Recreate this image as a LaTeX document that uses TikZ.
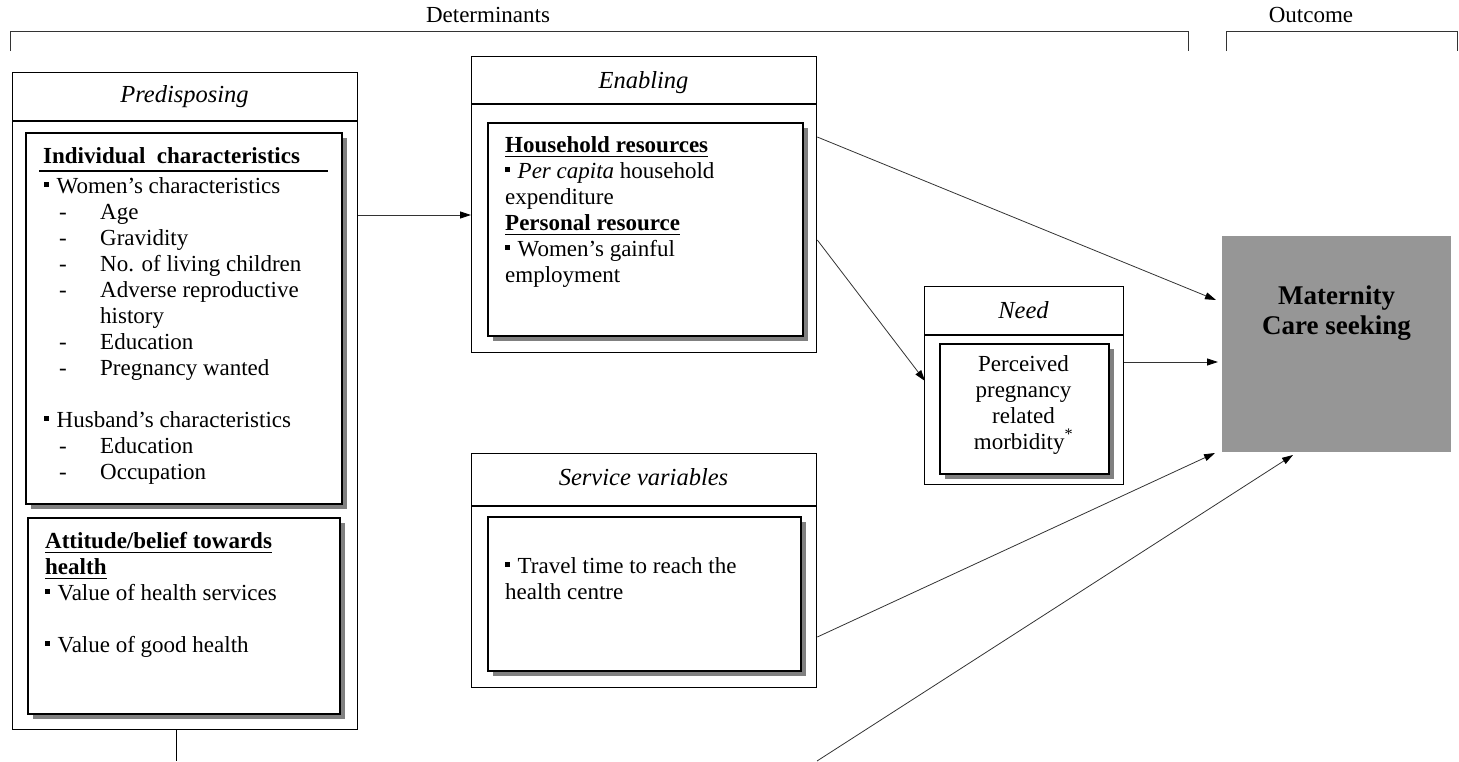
\documentclass[tikz,border=0pt]{standalone}
\usepackage{fontspec}
\setmainfont{Liberation Serif}
\usetikzlibrary{arrows.meta,shadows}
\newcommand{\ulb}[1]{\setbox0\hbox{#1}\rlap{\rule[-5.3pt]{\wd0}{1.8pt}}\box0}
\newcommand{\bul}{\raisebox{6.5pt}{\rule{5pt}{5pt}}\hspace{7.5pt}}
\definecolor{linegray}{HTML}{333333}
\definecolor{matgray}{HTML}{969696}
\begin{document}
\begin{tikzpicture}[x=1pt,y=-1pt,
  outer/.style={draw=black,line width=1.3pt,fill=white,rectangle,inner sep=0pt,anchor=north west},
  inner/.style={draw=black,line width=2pt,fill=white,rectangle,inner sep=0pt,anchor=north west,
     drop shadow={shadow xshift=5pt,shadow yshift=-5pt,fill=black!50,opacity=1}},
  txt/.style={inner sep=0pt,anchor=base west,font=\fontsize{23}{26}\selectfont},
  ctxt/.style={inner sep=0pt,anchor=base,font=\fontsize{23}{26}\selectfont},
  head/.style={inner sep=0pt,anchor=base,font=\fontsize{24.5}{28}\selectfont\itshape},
  arr/.style={draw=linegray,line width=0.8pt,-{Triangle[length=11pt,width=7pt,color=black]}},
  brk/.style={draw=linegray,line width=1pt}]
\useasboundingbox (0,0) rectangle (1459,761);

% brackets
\node[ctxt] (det) at (488,22) {Determinants};
\node[ctxt] (outc) at (1311,22) {Outcome};
\draw[brk] (10,51) -- (10,31) -- (1188,31) -- (1188,51);
\draw[brk] (1226,51) -- (1226,31) -- (1457,31) -- (1457,51);

% Predisposing
\node[outer,minimum width=345pt,minimum height=657pt] (pre) at (12,72) {};
\draw[line width=1.3pt] (pre.west |- 0,121) -- (pre.east |- 0,121);
\node[head] (preh) at (184.5,102) {Predisposing};
\node[inner,minimum width=316pt,minimum height=371pt] (ind) at (25,132) {};
\node[inner,minimum width=312pt,minimum height=196pt] (att) at (27,517) {};
\draw[line width=1.8pt] (39,171) -- (328,171);
\node[txt] (i0) at (43,163) {\bfseries Individual\ \ characteristics};
\node[txt] (i1) at (44,193) {\bul Women's characteristics};
\node[txt] (d1) at (59,219) {-};\node[txt] (i2) at (100,219) {Age};
\node[txt] (d2) at (59,245) {-};\node[txt] (i3) at (100,245) {Gravidity};
\node[txt] (d3) at (59,271) {-};\node[txt] (i4) at (100,271) {No. of living children};
\node[txt] (d4) at (59,297) {-};\node[txt] (i5) at (100,297) {Adverse reproductive};
\node[txt] (i6) at (100,323) {history};
\node[txt] (d5) at (59,349) {-};\node[txt] (i7) at (100,349) {Education};
\node[txt] (d6) at (59,375) {-};\node[txt] (i8) at (100,375) {Pregnancy wanted};
\node[txt] (i9) at (44,427) {\bul Husband's characteristics};
\node[txt] (d7) at (59,453) {-};\node[txt] (i10) at (100,453) {Education};
\node[txt] (d8) at (59,479) {-};\node[txt] (i11) at (100,479) {Occupation};

\node[txt] (a0) at (45,548) {\bfseries\ulb{Attitude/belief towards}};
\node[txt] (a1) at (45,574) {\bfseries\ulb{health}};
\node[txt] (a2) at (45,600) {\bul Value of health services};
\node[txt] (a3) at (45,652) {\bul Value of good health};
\draw[line width=1pt] (pre.south -| 176,0) -- (176,761);

% Enabling
\node[outer,minimum width=345pt,minimum height=296pt] (enab) at (471,56) {};
\draw[line width=1.3pt] (enab.west |- 0,104) -- (enab.east |- 0,104);
\node[head] (enh) at (643.5,88) {Enabling};
\node[inner,minimum width=315pt,minimum height=213pt] (enin) at (487,122) {};
\node[txt] (e1) at (505,152) {\bfseries\ulb{Household resources}};
\node[txt] (e2) at (505,178) {\bul\textit{Per capita} household};
\node[txt] (e3) at (505,204) {expenditure};
\node[txt] (e4) at (505,230) {\bfseries\ulb{Personal resource}};
\node[txt] (e5) at (505,256) {\bul Women's gainful};
\node[txt] (e6) at (505,282) {employment};

% Need
\node[outer,minimum width=199pt,minimum height=198pt] (need) at (924,286) {};
\draw[line width=1.3pt] (need.west |- 0,335) -- (need.east |- 0,335);
\node[head] (neh) at (1023.5,318) {Need};
\node[inner,minimum width=169pt,minimum height=130pt] (nein) at (939,343) {};
\node[ctxt] (n1) at (1023.5,371) {Perceived};
\node[ctxt] (n2) at (1023.5,397) {pregnancy};
\node[ctxt] (n3) at (1023.5,423) {related};
\node[ctxt] (n4) at (1023.5,449) {morbidity\textsuperscript{*}};

% Service
\node[outer,minimum width=345pt,minimum height=234pt] (serv) at (471,453) {};
\draw[line width=1.3pt] (serv.west |- 0,506) -- (serv.east |- 0,506);
\node[head] (seh) at (643.5,485) {Service variables};
\node[inner,minimum width=313pt,minimum height=154pt] (sein) at (487,516) {};
\node[txt] (s1) at (505,573) {\bul Travel time to reach the};
\node[txt] (s2) at (505,599) {health centre};

% Outcome box
\node[fill=matgray,rectangle,inner sep=0pt,anchor=north west,minimum width=229pt,minimum height=216pt] (mat) at (1222,236) {};
\node[inner sep=0pt,anchor=base,font=\fontsize{27}{30}\selectfont\bfseries] (m1) at (1336.5,304) {Maternity};
\node[inner sep=0pt,anchor=base,font=\fontsize{27}{30}\selectfont\bfseries] (m2) at (1336.5,334) {Care seeking};

% connectors
\coordinate (c1) at (1216,300);
\coordinate (c2) at (925,381);
\coordinate (c3) at (1218,362);
\coordinate (c4) at (1215,453);
\coordinate (c5) at (1293,455);
\coordinate (c6) at (817,761);
\draw[arr] (pre.east |- 0,215) -- (enab.west |- 0,215);
\draw[arr] (enab.east |- 0,137) -- (c1);
\draw[arr] (enab.east |- 0,240) -- (c2);
\draw[arr] (need.east |- 0,362) -- (c3);
\draw[arr] (serv.east |- 0,637) -- (c4);
\draw[arr] (c6) -- (c5);
\end{tikzpicture}
\end{document}
